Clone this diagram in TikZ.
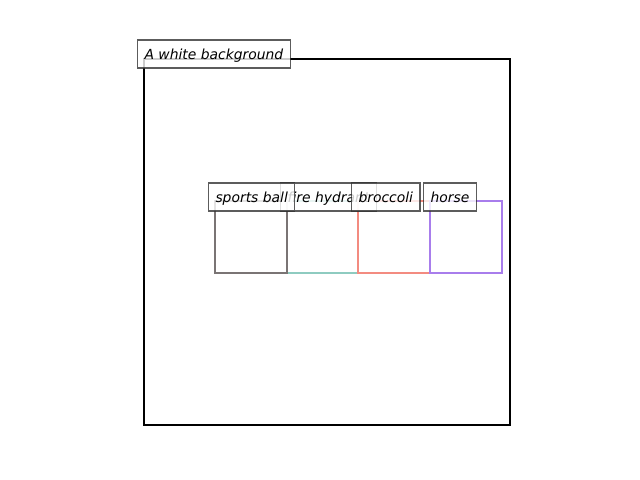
\documentclass[tikz,border=0pt]{standalone}
\usepackage{fontspec}
\setmainfont{DejaVu Sans}
\begin{document}
\begin{tikzpicture}[x=0.72pt,y=-0.72pt,
  bx/.style={line width=2pt},
  lbl/.style={anchor=west,draw=black!80,fill=white,fill opacity=0.8,draw opacity=0.8,text opacity=1,
    line width=0.8pt,inner xsep=5pt,inner ysep=5.1pt,text height=8.6pt,text depth=1.4pt,font=\itshape\fontsize{10}{12}\selectfont}]
\useasboundingbox (0,0) rectangle (640,480);
\draw[bx,black] (144,59) rectangle (510,425);
\coordinate (fh1) at (287,201); \coordinate (fh2) at (358,273);
\draw[bx,color={rgb,255:red,142;green,203;blue,192}] (fh1) rectangle (fh2);
\coordinate (sb1) at (215,201); \coordinate (sb2) at (287,273);
\draw[bx,color={rgb,255:red,122;green,116;blue,116}] (sb1) rectangle (sb2);
\coordinate (br1) at (358,201); \coordinate (br2) at (430,273);
\draw[bx,color={rgb,255:red,243;green,139;blue,128}] (br1) rectangle (br2);
\coordinate (ho1) at (430,201); \coordinate (ho2) at (502,273);
\draw[bx,color={rgb,255:red,168;green,125;blue,236}] (ho1) rectangle (ho2);
\node[lbl] (lbg) at (137,54) {A white background};
\node[lbl] (lfh) at (280,197) {fire hydrant};
\node[lbl] (lsb) at (208,197) {sports ball};
\node[lbl] (lbr) at (351,197) {broccoli};
\node[lbl] (lho) at (423,197) {horse};
\end{tikzpicture}
\end{document}
